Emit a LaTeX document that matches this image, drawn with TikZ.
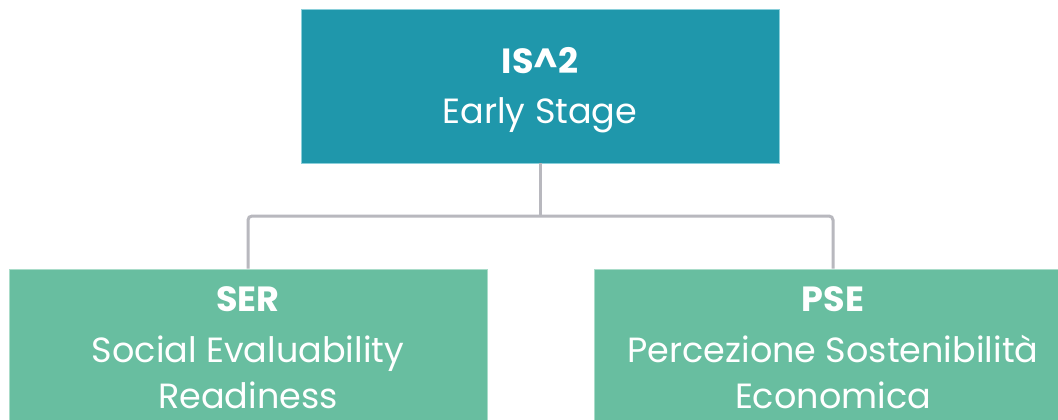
\documentclass[tikz,border=0pt]{standalone}
\usepackage{fontspec}
\setmainfont{Poppins}
\definecolor{teal1}{HTML}{1F97AB}
\definecolor{teal1b}{HTML}{8ACFDA}
\definecolor{green1}{HTML}{68BEA0}
\definecolor{green1b}{HTML}{A9DCC9}
\definecolor{conncol}{HTML}{B8B8BE}
\begin{document}
\begin{tikzpicture}[x=1pt,y=1pt,
  box/.style={rectangle, inner sep=0pt, line width=0.8pt, minimum width=478pt},
  topbox/.style={box, fill=teal1, draw=teal1b, minimum height=154pt},
  subbox/.style={box, fill=green1, draw=green1b, minimum height=180pt},
  conn/.style={draw=conncol, line width=3pt, rounded corners=4pt},
  ttl/.style={text=white, font=\fontsize{35}{35}\selectfont\bfseries, anchor=base, inner sep=0pt},
  txt/.style={text=white, font=\fontsize{35}{35}\selectfont, anchor=base, inner sep=0pt}]
\useasboundingbox (0,0) rectangle (1058,-420);
\clip (0,0) rectangle (1058,-420);
\fill[white] (0,0) rectangle (1058,-420);
\coordinate (mid) at (540,-216);
\node[topbox] (top) at (540,-86) {};
\node[subbox] (ser) at (248,-359) {};
\node[subbox] (pse) at (833,-359) {};
\draw[conn] (top.south) -- (mid);
\draw[conn] (ser.north) |- (mid) -| (pse.north);
\node[ttl] (t1) at (540,-74) {IS\textasciicircum2};
\node[txt] (t2) at (540,-124) {Early Stage};
\node[ttl] (s1) at (248,-311) {SER};
\node[txt] (s2) at (248,-362) {Social Evaluability};
\node[txt] (s3) at (248,-408) {Readiness};
\node[ttl] (p1) at (833,-311) {PSE};
\node[txt] (p2) at (833,-362) {Percezione Sostenibilità};
\node[txt] (p3) at (833,-408) {Economica};
\end{tikzpicture}
\end{document}
